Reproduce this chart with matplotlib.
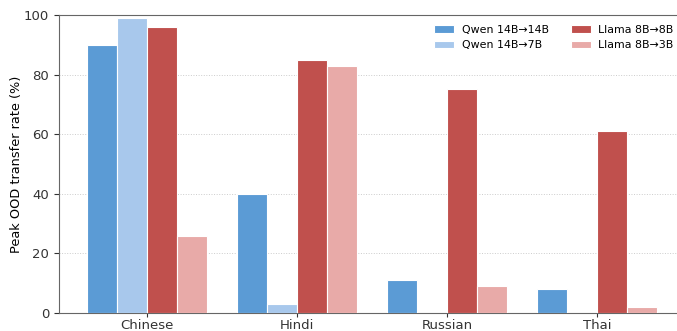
import numpy as np
import matplotlib
matplotlib.use("Agg")
import matplotlib.pyplot as plt

languages = ["Chinese", "Hindi", "Russian", "Thai"]
series_names = ["Qwen 14B→14B", "Qwen 14B→7B", "Llama 8B→8B", "Llama 8B→3B"]
qwen_14_14 = [90, 40, 11, 8]
qwen_14_7 = [99, 3, 0, 0]
llama_8_8 = [96, 85, 75, 61]
llama_8_3 = [26, 83, 9, 2]
colors = ["#5B9BD5", "#A8C8EC", "#C0504D", "#E8AAA8"]

series = [qwen_14_14, qwen_14_7, llama_8_8, llama_8_3]

fig = plt.figure(figsize=(6.77, 3.31), dpi=100)
ax = fig.add_axes([0.0871, 0.0544, 0.925, 0.9003])

x = np.arange(len(languages))
width = 0.2
for i, (vals, name, c) in enumerate(zip(series, series_names, colors)):
    ax.bar(x + (i - 1.5) * width, vals, width, label=name, color=c,
           edgecolor="white", linewidth=0.8, zorder=3)

ax.set_ylim(0, 100)
ax.set_xticks(x)
ax.set_xticklabels(languages, fontsize=9.5)
ax.tick_params(axis="x", pad=1.5, length=3)
ax.tick_params(axis="y", labelsize=9.5)
ax.set_ylabel("Peak OOD transfer rate (%)", fontsize=9.3, labelpad=1)
ax.yaxis.grid(True, linestyle=":", color="#cccccc", linewidth=0.7, zorder=0)
for s in ax.spines.values():
    s.set_color("#666666")
ax.tick_params(colors="#333333")
ax.legend(ncol=2, frameon=False, fontsize=7.9, loc="upper right",
          bbox_to_anchor=(0.997, 1.0), handlelength=1.8, handletextpad=0.7,
          columnspacing=2.0)

fig.savefig("out.png", dpi=100)
